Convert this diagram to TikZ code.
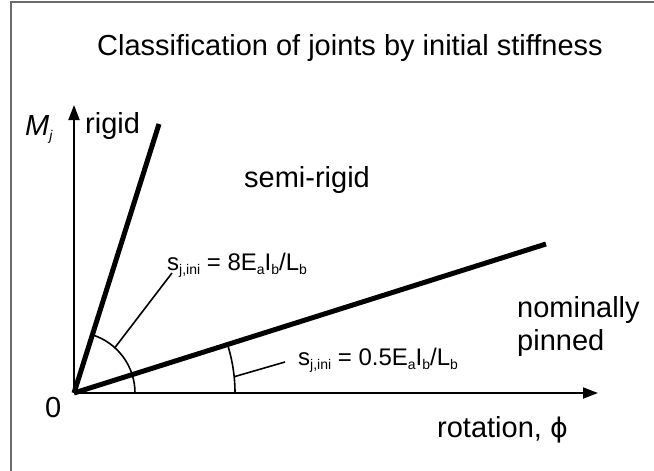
\documentclass[tikz,border=0pt]{standalone}
\usepackage{fontspec}
\setmainfont{Liberation Sans}
\newfontfamily\symfont{DejaVu Sans}
\usetikzlibrary{arrows.meta}
\tikzset{
  lbl/.style={font=\fontsize{29}{33}\selectfont, inner sep=0pt, anchor=base west},
  frm/.style={font=\fontsize{24}{28}\selectfont, inner sep=0pt, anchor=base west},
  axis/.style={line width=2pt, -{Triangle[length=15pt,width=11pt]}},
  stiff/.style={line width=5pt},
  thin/.style={line width=1.6pt},
  frame/.style={draw=black!58, line width=2pt}
}
\newcommand{\sbx}[1]{\raisebox{-0.35ex}{\fontsize{14}{14}\selectfont #1}}
\begin{document}
\begin{tikzpicture}[x=1pt,y=-1pt]
\useasboundingbox (0,0) rectangle (654,471);
\draw[frame] (11,471) -- (11,2) -- (654,2);
\node[lbl, anchor=base] (title) at (350,56) {Classification of joints by initial stiffness};
\coordinate (O) at (74,393);
\coordinate (Ytip) at (74,105);
\coordinate (Xtip) at (598,393);
\coordinate (R) at (159,124);
\coordinate (P) at (546,244);
\draw[axis] (O) -- (Ytip);
\draw[axis] (O) -- (Xtip);
\draw[stiff] (O) -- (R);
\draw[stiff] (O) -- (P);
\draw[thin] ([shift={(0:61)}]O) arc[start angle=0, end angle=-72.5, radius=61];
\draw[thin] ([shift={(0:161)}]O) arc[start angle=0, end angle=-17.5, radius=161];
\coordinate (A1) at ([shift={(-48:61.5)}]O);
\coordinate (A2) at ([shift={(-5.8:161)}]O);
\node[lbl] (M) at (25,135) {\textit{M}\sbx{\textit{j}}};
\node[lbl] (rigid) at (85,133) {rigid};
\node[lbl] (semi) at (244,187) {semi-rigid};
\node[lbl, align=left, anchor=north west] (nom) at (517,296) {nominally\\pinned};
\node[lbl] (zero) at (45,417) {0};
\node[lbl] (rot) at (437,437) {rotation, {\symfont\fontsize{27}{30}\selectfont ϕ}};
\node[frm] (f1) at (167,270) {s\sbx{j,ini} = 8E\sbx{a}I\sbx{b}/L\sbx{b}};
\node[frm] (f2) at (298,365) {s\sbx{j,ini} = 0.5E\sbx{a}I\sbx{b}/L\sbx{b}};
\coordinate (L1) at (172,273);
\coordinate (L2) at (285,362);
\draw[thin] (A1) -- (L1);
\draw[thin] (A2) -- (L2);
\end{tikzpicture}
\end{document}
